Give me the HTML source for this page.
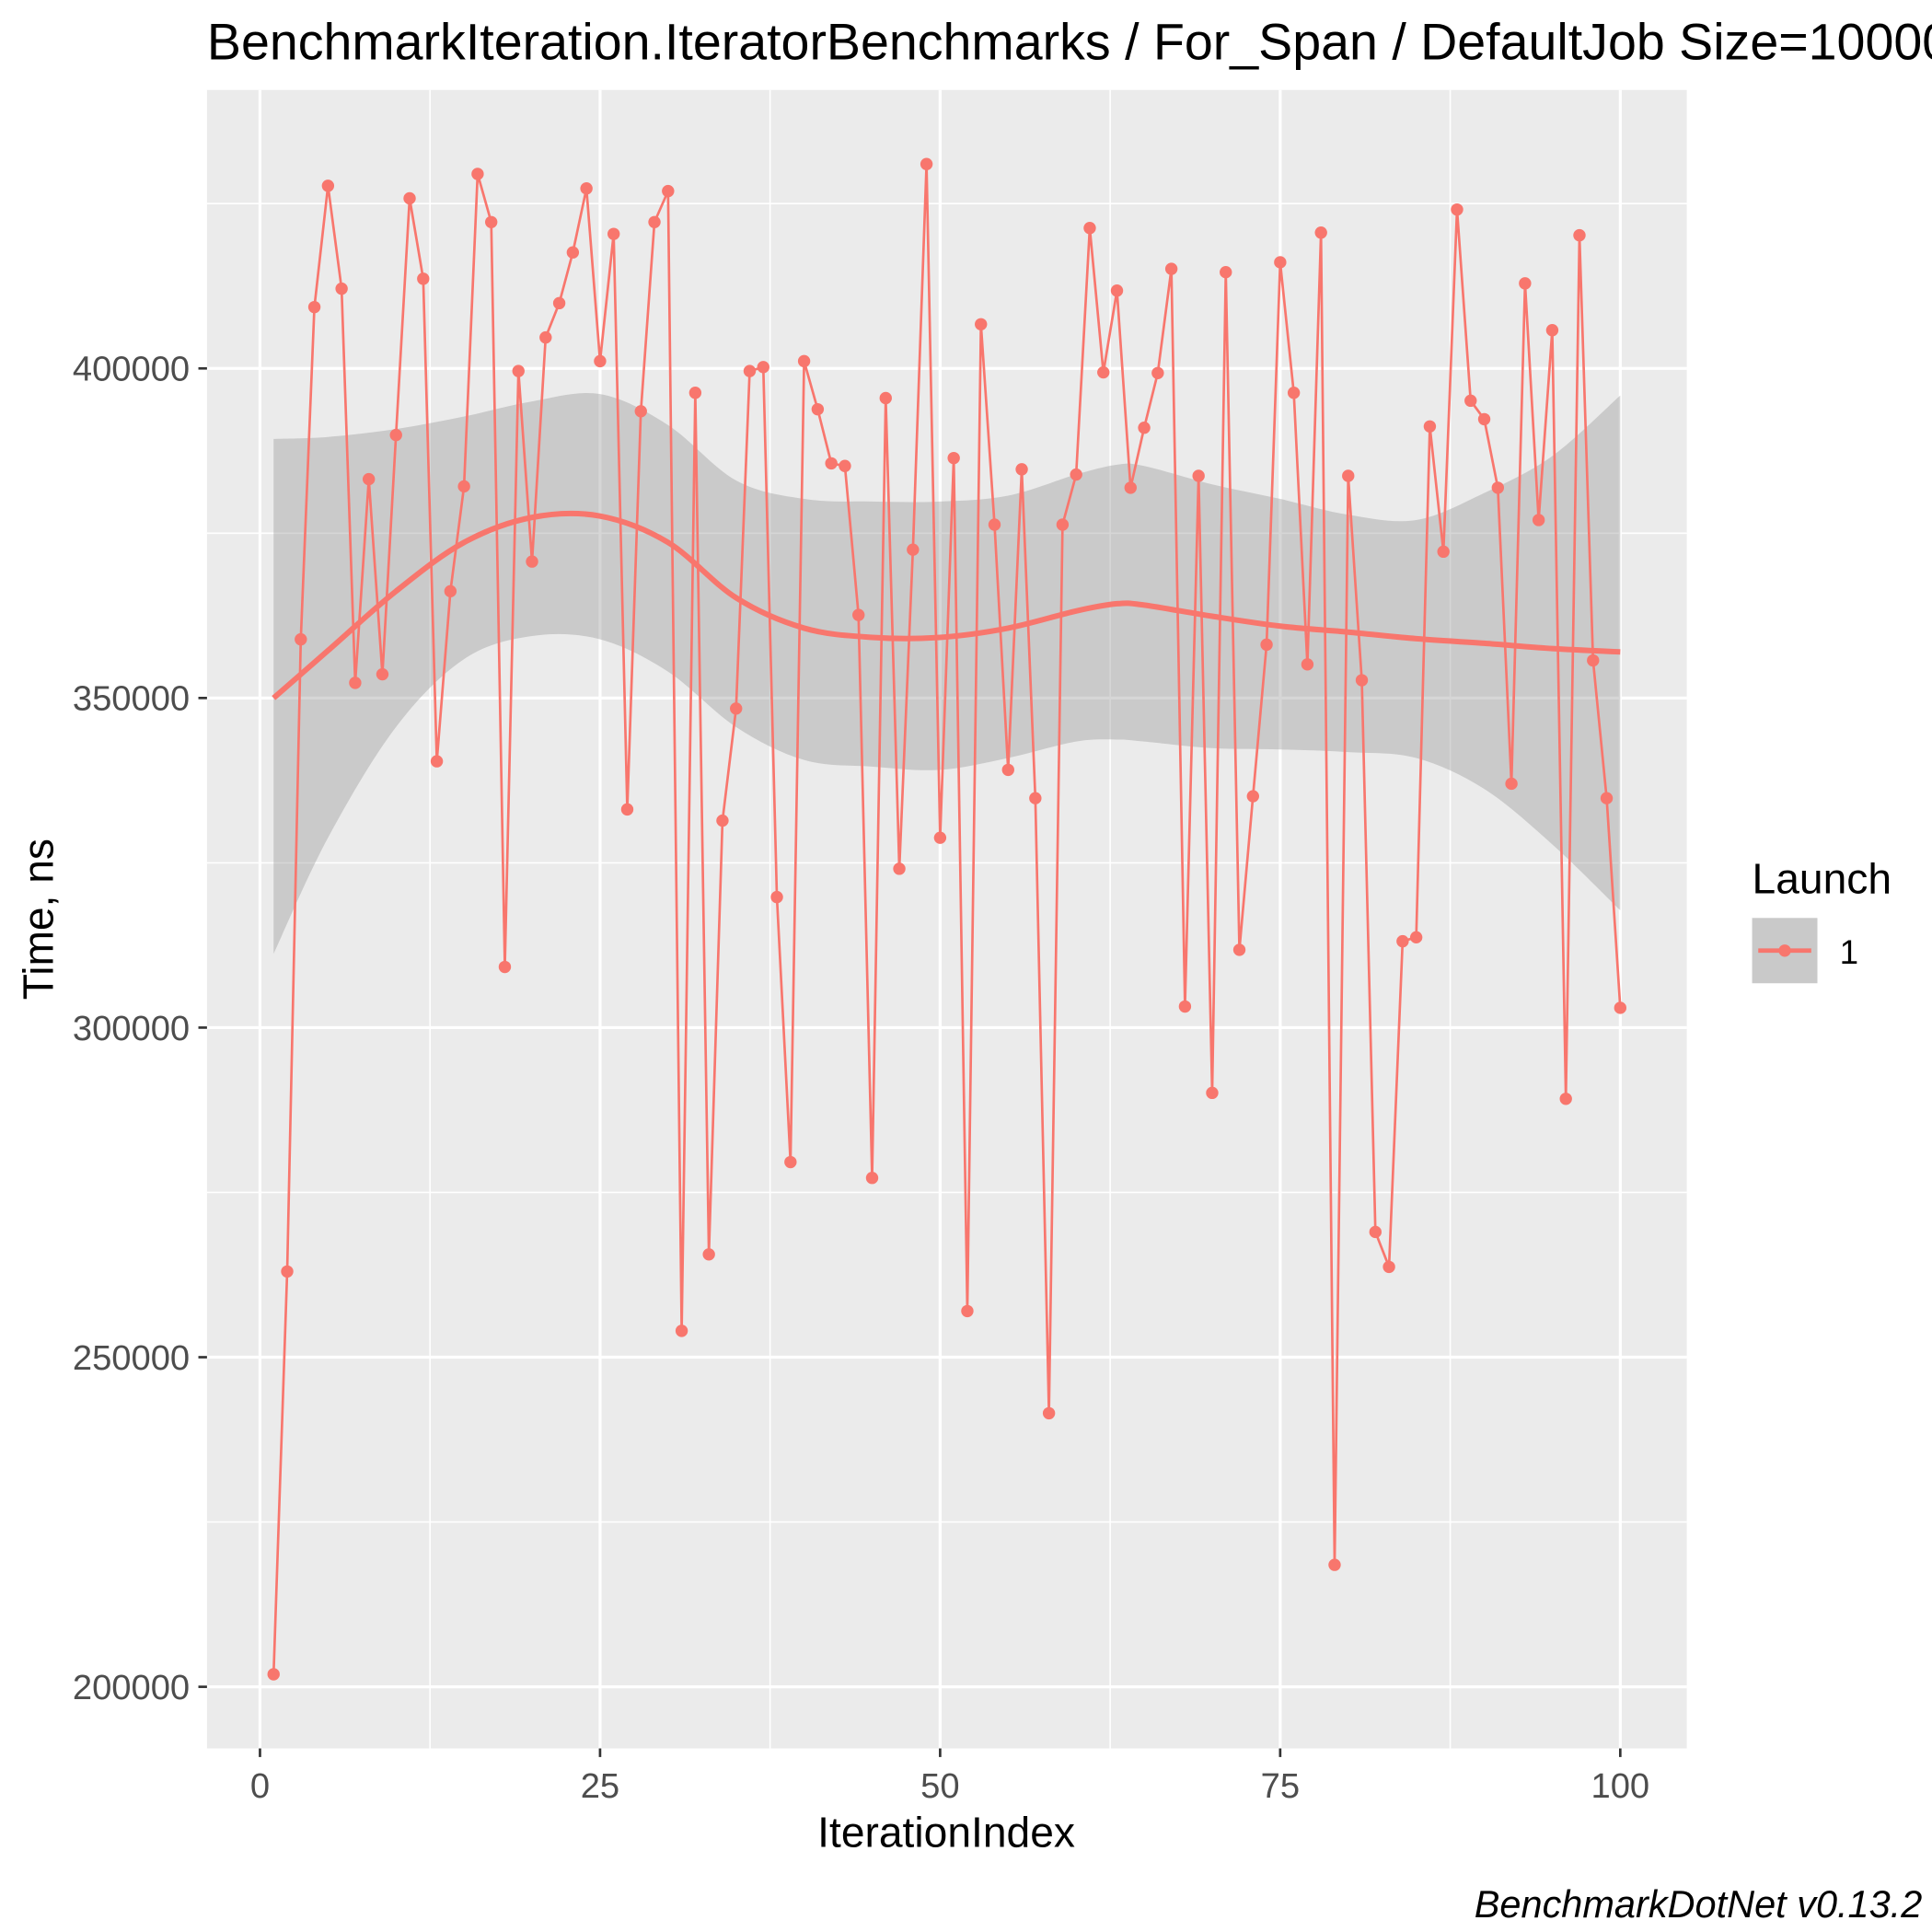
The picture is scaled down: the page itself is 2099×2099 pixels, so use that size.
<!DOCTYPE html>
<html><head><meta charset="utf-8"><style>
html,body{margin:0;padding:0;background:#fff}
svg{display:block;font-family:"Liberation Sans",Arial,sans-serif}
</style></head><body>
<svg id="chart" width="2099" height="2099" viewBox="0 0 1568 1568" xmlns="http://www.w3.org/2000/svg">
<rect width="1568" height="1568" fill="#fff"/>
<text x="168" y="48" font-size="41.5" fill="#000">BenchmarkIteration.IteratorBenchmarks / For_Span / DefaultJob Size=10000</text>
<rect x="168" y="73" width="1201" height="1346" fill="#ebebeb"/>
<g id="grid"></g>
<g id="ribbon"></g>
<g id="series"></g>
<g id="axes"></g>
<text x="768" y="1499" font-size="34.5" text-anchor="middle" fill="#000">IterationIndex</text>
<text transform="translate(43,746) rotate(-90)" font-size="34.5" text-anchor="middle" fill="#000">Time, ns</text>
<g>
<text x="1422" y="725" font-size="34.5" fill="#000">Launch</text>
<rect x="1422" y="745" width="53" height="53" fill="#c9c9c9"/>
<line x1="1427" y1="771.5" x2="1470" y2="771.5" stroke="#F8766D" stroke-width="3.5"/>
<circle cx="1448.5" cy="771.5" r="5" fill="#F8766D"/>
<text x="1493" y="782" font-size="27.5" fill="#000">1</text>
</g>
<text x="1560" y="1556" font-size="31" font-style="italic" text-anchor="end" fill="#000">BenchmarkDotNet v0.13.2</text>
</svg>
<script>
const values = [201900,263000,358900,409300,427700,412100,352300,383200,353600,389900,
425800,413600,340400,366200,382100,429500,422200,309200,399600,370700,
404700,409900,417600,427300,401100,420400,333100,393500,422200,426900,
254000,396300,265600,331400,348400,399600,400200,319800,279600,401100,
393800,385600,385200,362600,277200,395500,324100,372500,431000,328800,
386400,257000,406700,376300,339100,384700,334800,241500,376300,383900,
421300,399400,411800,381900,391000,399300,415100,303200,383700,290100,
414600,311800,335100,358100,416100,396300,355100,420600,218500,383700,
352700,269000,263700,313100,313700,391200,372200,424100,395100,392300,
381900,337000,412900,377000,405800,289200,420200,355700,334800,303000];
const smoothX = [1,5,10,15,20,25,30,35,40,45,50,55,60,63,65,70,75,80,85,90,95,100];
const smoothFit = [350000,357200,366200,373600,377400,377600,373600,365200,360600,359200,359200,360600,363200,364300,364100,362400,360900,360000,359000,358300,357500,357000];
const smoothHi = [389300,389600,390800,392700,395000,396100,391400,383000,380200,379800,379800,380700,383900,385400,385200,382400,380200,377800,377000,381100,386700,395900];
const smoothLo = [311200,328800,345600,355900,359400,358900,354000,345600,340600,339600,339100,340900,343400,343700,343400,342400,342200,341800,340900,336200,327800,317800];
const xTicks = [0,25,50,75,100];
const yTicks = [200000,250000,300000,350000,400000];

const NS='http://www.w3.org/2000/svg';
const sx = v => 211 + (v-0)*(1315-211)/100;
const sy = v => 1369 - (v-200000)*(1369-299)/200000;
function el(tag, attrs, parent){const e=document.createElementNS(NS,tag);for(const k in attrs)e.setAttribute(k,attrs[k]);parent.appendChild(e);return e;}
function spline(pts){ // catmull-rom to bezier
  let d='M'+pts[0][0]+','+pts[0][1];
  for(let i=0;i<pts.length-1;i++){
    const p0=pts[Math.max(0,i-1)],p1=pts[i],p2=pts[i+1],p3=pts[Math.min(pts.length-1,i+2)];
    const c1=[p1[0]+(p2[0]-p0[0])/6,p1[1]+(p2[1]-p0[1])/6];
    const c2=[p2[0]-(p3[0]-p1[0])/6,p2[1]-(p3[1]-p1[1])/6];
    d+=' C'+c1[0]+','+c1[1]+' '+c2[0]+','+c2[1]+' '+p2[0]+','+p2[1];
  }
  return d;
}
const grid=document.getElementById('grid'), ribbon=document.getElementById('ribbon'), series=document.getElementById('series'), axes=document.getElementById('axes');
for(let i=0;i<xTicks.length-1;i++){const m=(xTicks[i]+xTicks[i+1])/2;
 const g=el('line',{x1:sx(m),x2:sx(m),y1:73,y2:1419,stroke:'#fff','stroke-width':1.2},grid);
 
 }
for(let v=175000;v<=450000;v+=50000){const y=sy(v); if(y<73||y>1419)continue;
 const g=el('line',{x1:168,x2:1369,y1:y,y2:y,stroke:'#fff','stroke-width':1.2},grid);
 
 }
xTicks.forEach(t=>{const g=el('line',{x1:sx(t),x2:sx(t),y1:73,y2:1419,stroke:'#fff','stroke-width':2.4},grid);
 
 
 el('line',{x1:sx(t),x2:sx(t),y1:1419,y2:1426,stroke:'#333','stroke-width':2},axes);
 const tx=el('text',{x:sx(t),y:1459,'font-size':28.5,'text-anchor':'middle',fill:'#4d4d4d'},axes);tx.textContent=t;
 
 });
yTicks.forEach(t=>{const g=el('line',{x1:168,x2:1369,y1:sy(t),y2:sy(t),stroke:'#fff','stroke-width':2.4},grid);
 
 
 el('line',{x1:161,x2:168,y1:sy(t),y2:sy(t),stroke:'#333','stroke-width':2},axes);
 const tx=el('text',{x:154,y:sy(t)+10,'font-size':28.5,'text-anchor':'end',fill:'#4d4d4d'},axes);tx.textContent=t;
 
 });
const hiPts=smoothX.map((x,i)=>[sx(x),sy(smoothHi[i])]);
const loPts=smoothX.map((x,i)=>[sx(x),sy(smoothLo[i])]).reverse();
const loD=spline(loPts).replace(/^M/,' L');
const rb=el('path',{d:spline(hiPts)+loD+'Z',fill:'#999','fill-opacity':0.4},ribbon);


const ln=el('polyline',{points:values.map((v,i)=>sx(i+1)+','+sy(v)).join(' '),fill:'none',stroke:'#F8766D','stroke-width':2},series);


values.forEach((v,i)=>{const c=el('circle',{cx:sx(i+1),cy:sy(v),r:5,fill:'#F8766D'},series);
 
 });
const sp=el('path',{d:spline(smoothX.map((x,i)=>[sx(x),sy(smoothFit[i])])),fill:'none',stroke:'#F8766D','stroke-width':4.5,'stroke-linejoin':'round'},series);


</script>
</body></html>
